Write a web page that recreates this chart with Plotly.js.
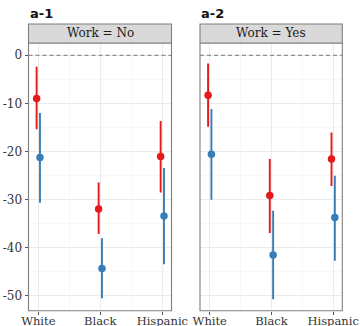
<!DOCTYPE html>
<html><head><meta charset="utf-8">
<script src="https://cdn.plot.ly/plotly-3.0.1.min.js"></script>
<style>html,body{margin:0;padding:0;background:#fff}#chart{width:360px;height:326px}</style>
</head><body><div id="chart"></div>
<script>
const categories = ["White", "Black", "Hispanic"];
const panels = ["Work = No", "Work = Yes"];
const panelTags = ["a-1", "a-2"];
// panel 1 (Work = No)
const p1RedEst = [-9.0, -32.0, -21.1];
const p1RedLo  = [-15.4, -37.2, -28.6];
const p1RedHi  = [-2.4, -26.5, -13.7];
const p1BlueEst = [-21.3, -44.4, -33.5];
const p1BlueLo  = [-30.7, -50.6, -43.5];
const p1BlueHi  = [-12.0, -38.1, -23.5];
// panel 2 (Work = Yes)
const p2RedEst = [-8.3, -29.2, -21.6];
const p2RedLo  = [-14.9, -37.0, -27.2];
const p2RedHi  = [-1.7, -21.6, -16.1];
const p2BlueEst = [-20.6, -41.6, -33.8];
const p2BlueLo  = [-30.1, -50.8, -42.8];
const p2BlueHi  = [-11.2, -32.4, -25.1];
const yTicks = [0, -10, -20, -30, -40, -50];

const RED = "#E41A1C", BLUE = "#377EB8";
const dodge = 0.027;
function trace(est, lo, hi, color, shift, xa, ya) {
  return {
    type: "scatter", mode: "markers",
    x: categories.map((c, i) => i + 1 + shift),
    y: est,
    xaxis: xa, yaxis: ya,
    marker: {color: color, size: 7.5},
    error_y: {type: "data", symmetric: false,
      array: hi.map((h, i) => h - est[i]),
      arrayminus: est.map((e, i) => e - lo[i]),
      color: color, thickness: 1.9, width: 0},
    showlegend: false, hoverinfo: "skip"
  };
}
const data = [
  trace(p1RedEst, p1RedLo, p1RedHi, RED, -dodge, "x", "y"),
  trace(p1BlueEst, p1BlueLo, p1BlueHi, BLUE, dodge, "x", "y"),
  trace(p2RedEst, p2RedLo, p2RedHi, RED, -dodge, "x2", "y2"),
  trace(p2BlueEst, p2BlueLo, p2BlueHi, BLUE, dodge, "x2", "y2")
];
const xfont = {family: "DejaVu Serif", size: 11.5, color: "#333"};
const yfont = {family: "DejaVu Serif", size: 12, color: "#333"};
const xr = [0.842, 3.148];
const yr = [-53.2, 2.56];
const d1 = [28.5/360, 171.5/360], d2 = [200/360, 342.3/360];
const yd = [1 - 310.7/326, 1 - 43/326];
function xaxis(dom, anchor) {
  return {domain: dom, anchor: anchor, range: xr, tickmode: "array",
    tickvals: [1, 2, 3], ticktext: categories, ticks: "outside", ticklen: 3,
    ticklabelstandoff: -4,
    tickcolor: "#555", tickfont: xfont, showgrid: true, gridcolor: "#ebebeb",
    gridwidth: 1, minor: {tickmode: "array", tickvals: [1.5, 2.5], showgrid: true, gridcolor: "#f3f3f3", gridwidth: 0.6, ticks: ""},
    zeroline: false, showline: false, fixedrange: true};
}
function yaxis(anchor, show) {
  return {domain: yd, anchor: anchor, range: yr, tickmode: "array",
    tickvals: yTicks, ticktext: yTicks.map(String), showticklabels: show,
    ticks: show ? "outside" : "", ticklen: 3, tickcolor: "#555", tickfont: yfont,
    showgrid: true, gridcolor: "#ebebeb", gridwidth: 1,
    minor: {tickmode: "array", tickvals: [-5, -15, -25, -35, -45], showgrid: true, gridcolor: "#f3f3f3", gridwidth: 0.6, ticks: ""},
    zeroline: false, showline: false, fixedrange: true};
}
const shapes = [];
const annotations = [];
[d1, d2].forEach((d, k) => {
  const xa = k === 0 ? "x" : "x2", ya = k === 0 ? "y" : "y2";
  shapes.push({type: "line", xref: xa + " domain", yref: ya, x0: 0, x1: 1, y0: 0, y1: 0,
    line: {color: "#777", width: 1, dash: "4px,3px"}, layer: "above"});
  shapes.push({type: "rect", xref: "paper", yref: "paper", x0: d[0], x1: d[1], y0: yd[0], y1: yd[1],
    line: {color: "#7f7f7f", width: 1.1}, fillcolor: "rgba(0,0,0,0)", layer: "above"});
  shapes.push({type: "rect", xref: "paper", yref: "paper", x0: d[0], x1: d[1], y0: yd[1], y1: 1 - 24/326,
    line: {color: "#7f7f7f", width: 1.1}, fillcolor: "#d9d9d9"});
  annotations.push({xref: "paper", yref: "paper", x: (d[0] + d[1]) / 2, y: 1 - 33.5/326,
    text: panels[k], showarrow: false, xanchor: "center", yanchor: "middle",
    font: {family: "DejaVu Serif", size: 12, color: "#1a1a1a"}});
  annotations.push({xref: "paper", yref: "paper", x: d[0], y: 1 - 14/326,
    text: "<b>" + panelTags[k] + "</b>", showarrow: false, xanchor: "left", yanchor: "middle",
    xshift: -1, font: {family: "DejaVu Sans", size: 13, color: "#111"}});
});
const layout = {
  width: 360, height: 326, margin: {l: 0, r: 0, t: 0, b: 0},
  paper_bgcolor: "#fff", plot_bgcolor: "#fff",
  xaxis: xaxis(d1, "y"), xaxis2: xaxis(d2, "y2"),
  yaxis: yaxis("x", true), yaxis2: yaxis("x2", false),
  shapes: shapes, annotations: annotations, showlegend: false
};
Plotly.newPlot("chart", data, layout, {staticPlot: true, displayModeBar: false});
</script></body></html>
